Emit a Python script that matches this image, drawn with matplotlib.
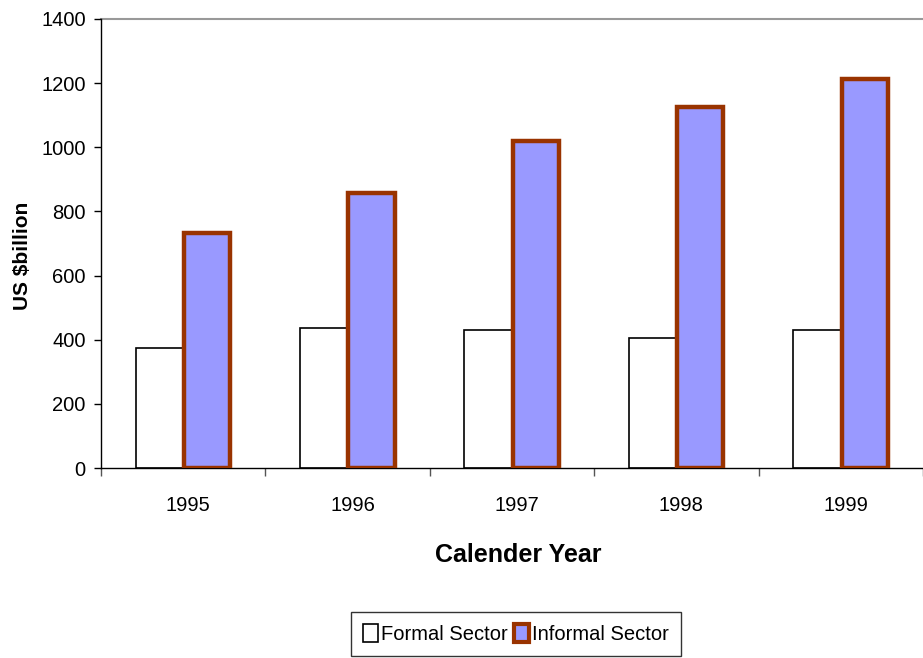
import matplotlib
matplotlib.use("Agg")
import matplotlib.pyplot as plt
import matplotlib.transforms as mtransforms
import numpy as np
from matplotlib.patches import Patch

plt.rcParams['font.family'] = ['Liberation Sans', 'DejaVu Sans']

years = ["1995", "1996", "1997", "1998", "1999"]
formal = [374, 437, 430, 405, 430]
informal = [733, 857, 1020, 1126, 1214]
yticks = [0, 200, 400, 600, 800, 1000, 1200, 1400]

W, H = 923, 658
fig = plt.figure(figsize=(W / 100, H / 100), dpi=100)
ax = fig.add_axes([101 / W, 1 - 468 / H, 1 - 101 / W, (468 - 19) / H])

x = np.arange(len(years))
bw = 0.29
ax.bar(x - bw / 2, formal, bw, color="white", edgecolor="black", linewidth=1.2, zorder=2)
ax.bar(x + bw / 2, informal, bw * 0.97, color="#9999FF", edgecolor="#993300", linewidth=3.2, zorder=3)

ax.set_xlim(-0.5, len(years) - 0.5)
ax.set_ylim(0, 1400)
ax.set_yticks(yticks)
ax.set_yticklabels([str(v) for v in yticks], fontsize=14.5)
ax.set_xticks(x)
ax.set_xticklabels(years, fontsize=14.5)
ax.tick_params(axis="x", length=0, pad=20)
ax.set_xticks(np.arange(-0.5, len(years), 1.0), minor=True)
ax.tick_params(axis="x", which="minor", length=6, width=1, color="#555555", direction="out")
ax.tick_params(axis="y", length=5, width=1, direction="out", pad=6)

offset = mtransforms.ScaledTranslation(5 / 100, 0, fig.dpi_scale_trans)
for lbl in ax.get_xticklabels():
    lbl.set_transform(lbl.get_transform() + offset)

ax.axhline(1400, color="#999999", linewidth=1.5, zorder=1, clip_on=False)
for s in ["top", "right"]:
    ax.spines[s].set_visible(False)
ax.spines["left"].set_linewidth(1)
ax.spines["bottom"].set_linewidth(1)

ax.set_ylabel("US $billion", fontsize=15, fontweight="bold")
ax.yaxis.set_label_coords((32 - 101) / (W - 101), (468 - 256) / 449)
ax.set_xlabel("Calender Year", fontsize=18, fontweight="bold")
ax.xaxis.set_label_coords((518 - 101) / (W - 101), -(543 - 468) / 449)

handles = [Patch(facecolor="white", edgecolor="black", linewidth=1.2),
           Patch(facecolor="#9999FF", edgecolor="#993300", linewidth=3)]
leg = fig.legend(handles, ["Formal Sector", "Informal Sector"], loc="upper center",
                 bbox_to_anchor=(516 / W, 1 - 612 / H), ncol=2, fontsize=14.5,
                 frameon=True, fancybox=False, edgecolor="black", handlelength=0.75,
                 handleheight=1.0, handletextpad=0.15, columnspacing=0.3, borderpad=0.6,
                 borderaxespad=0)
leg.get_frame().set_linewidth(1)

fig.savefig("out.png", dpi=100)
